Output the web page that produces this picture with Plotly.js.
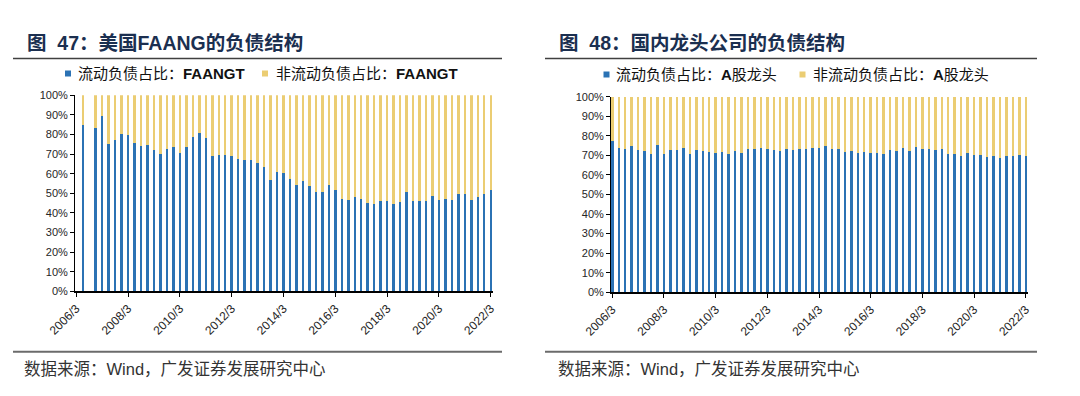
<!DOCTYPE html>
<html>
<head>
<meta charset="utf-8">
<script src="https://cdn.plot.ly/plotly-3.0.1.min.js"></script>
<style>
html,body{margin:0;padding:0;background:#fff;}
#chart{width:1080px;height:396px;}
</style>
</head>
<body>
<div id="chart"></div>
<script>
// ---------- data ----------
var startYear = 2006, endYear = 2022;
var quarters = [];
for (var y = startYear; y <= endYear; y++) {
  var ms = (y === endYear) ? [3] : [3, 6, 9, 12];
  ms.forEach(function (m) { quarters.push(y + '/' + m); });
}
var tickLabels = ['2006/3','2008/3','2010/3','2012/3','2014/3','2016/3','2018/3','2020/3','2022/3'];

// FAANGT (%)
var faangCurrent = [null,85.1,null,83.1,89.2,75.4,77.3,80.2,79.8,75.9,73.9,74.9,72.2,70.3,72.7,73.4,
  70.8,73.7,78.5,80.8,78.3,68.8,69.3,69.5,68.8,67.5,67.1,66.8,65.4,63.2,56.6,60.7,
  60.2,57.3,54.2,56.4,53.7,50.8,50.8,54.1,51.7,47.3,46.8,48.3,47.1,45.3,44.6,46.1,
  46.3,44.6,45.8,50.8,46.1,45.9,46.1,48.6,46.8,46.9,46.4,49.5,49.8,46.8,48.1,49.8,51.5];
var faangNonCurrent = [null,14.9,null,16.9,10.8,24.6,22.7,19.8,20.2,24.1,26.1,25.1,27.8,29.7,27.3,26.6,
  29.2,26.3,21.5,19.2,21.7,31.2,30.7,30.5,31.2,32.5,32.9,33.2,34.6,36.8,43.4,39.3,
  39.8,42.7,45.8,43.6,46.3,49.2,49.2,45.9,48.3,52.7,53.2,51.7,52.9,54.7,55.4,53.9,
  53.7,55.4,54.2,49.2,53.9,54.1,53.9,51.4,53.2,53.1,53.6,50.5,50.2,53.2,51.9,50.2,48.5];

// A股龙头 (%)
var aCurrent = [77.4,74.0,73.2,74.9,72.5,72.0,70.5,75.1,70.6,72.5,72.7,73.7,70.5,72.5,72.2,71.5,
  71.1,71.7,70.8,72.0,71.1,73.5,73.5,73.9,73.2,72.5,72.3,73.2,73.0,73.4,73.4,74.0,
  73.9,74.7,73.4,73.4,71.8,72.2,71.3,71.8,71.0,71.0,70.6,72.9,72.2,73.7,72.0,74.4,
  73.4,73.5,72.9,73.4,70.5,70.6,69.6,71.3,70.0,70.1,69.3,69.6,68.6,69.6,69.5,70.1,69.6];
var aNonCurrent = [22.6,26.0,26.8,25.1,27.5,28.0,29.5,24.9,29.4,27.5,27.3,26.3,29.5,27.5,27.8,28.5,
  28.9,28.3,29.2,28.0,28.9,26.5,26.5,26.1,26.8,27.5,27.7,26.8,27.0,26.6,26.6,26.0,
  26.1,25.3,26.6,26.6,28.2,27.8,28.7,28.2,29.0,29.0,29.4,27.1,27.8,26.3,28.0,25.6,
  26.6,26.5,27.1,26.6,29.5,29.4,30.4,28.7,30.0,29.9,30.7,30.4,31.4,30.4,30.5,29.9,30.4];

var seriesNames = ['流动负债占比：FAANGT','非流动负债占比：FAANGT','流动负债占比：A股龙头','非流动负债占比：A股龙头'];

// ---------- styling ----------
var W = 1080, H = 396;
var BLUE = '#2b72b4', YELLOW = '#ebcd73';
var FONT = 'Liberation Sans, Arial, Noto Sans CJK SC, sans-serif';
var px = function (x) { return x / W; };
var py = function (y) { return 1 - y / H; };

var traces = [
  {type:'bar', x:quarters, y:faangCurrent, name:seriesNames[0], marker:{color:BLUE}, xaxis:'x', yaxis:'y', showlegend:false, hoverinfo:'x+y+name'},
  {type:'bar', x:quarters, y:faangNonCurrent, name:seriesNames[1], marker:{color:YELLOW}, xaxis:'x', yaxis:'y', showlegend:false, hoverinfo:'x+y+name'},
  {type:'bar', x:quarters, y:aCurrent, name:seriesNames[2], marker:{color:BLUE}, xaxis:'x2', yaxis:'y2', showlegend:false, hoverinfo:'x+y+name'},
  {type:'bar', x:quarters, y:aNonCurrent, name:seriesNames[3], marker:{color:YELLOW}, xaxis:'x2', yaxis:'y2', showlegend:false, hoverinfo:'x+y+name'}
];

var tickVals = tickLabels.slice();

function xaxisDef(d0, d1, anchor) {
  return {
    domain:[px(d0), px(d1)], anchor:anchor, type:'category',
    range:[-0.2, 64.35], autorange:false,
    tickmode:'array', tickvals:tickVals, ticktext:tickLabels,
    tickangle:-45, ticks:'outside', ticklen:4, tickwidth:1, tickcolor:'#000',
    showline:true, linecolor:'#000', linewidth:1.5,
    showgrid:false, zeroline:false,
    tickfont:{family:FONT, size:12, color:'#262626'}, fixedrange:true
  };
}
function yaxisDef(top, bottom, anchor) {
  return {
    domain:[py(bottom), py(top)], anchor:anchor,
    range:[0, 100], autorange:false,
    tickmode:'linear', tick0:0, dtick:10, ticksuffix:'%',
    ticks:'outside', ticklen:4, tickwidth:1, tickcolor:'#000',
    showline:true, linecolor:'#000', linewidth:1,
    showgrid:false, zeroline:false,
    tickfont:{family:FONT, size:11, color:'#262626'}, fixedrange:true
  };
}

function ann(x, y, text, size, color, extra) {
  var a = {xref:'paper', yref:'paper', x:px(x), y:py(y), xanchor:'left', yanchor:'middle',
    text:text, showarrow:false, font:{family:FONT, size:size, color:color}};
  if (extra) for (var k in extra) a[k] = extra[k];
  return a;
}
function rect(x0, y0, x1, y1, color) {
  return {type:'rect', xref:'paper', yref:'paper', x0:px(x0), x1:px(x1), y0:py(y1), y1:py(y0),
    fillcolor:color, line:{width:0}};
}
function hline(x0, x1, y, color, w) {
  return {type:'line', xref:'paper', yref:'paper', x0:px(x0), x1:px(x1), y0:py(y), y1:py(y),
    line:{color:color, width:w}};
}

var TITLE = '#1b2f50';
var layout = {
  width:W, height:H, autosize:false,
  margin:{l:0, r:0, t:0, b:0, pad:0},
  paper_bgcolor:'#fff', plot_bgcolor:'#fff',
  barmode:'stack', bargap:0.62,
  font:{family:FONT},
  xaxis: xaxisDef(75, 493, 'y'),
  yaxis: yaxisDef(95.3, 291.3, 'x'),
  xaxis2: xaxisDef(611, 1028, 'y2'),
  yaxis2: yaxisDef(96.7, 292.3, 'x2'),
  annotations:[
    ann(25, 43, '<b>图  47：美国FAANG的负债结构</b>', 19.5, TITLE),
    ann(557, 43, '<b>图  48：国内龙头公司的负债结构</b>', 19.5, TITLE),
    ann(76, 73.5, '流动负债占比：<b>FAANGT</b>', 15, '#111'),
    ann(274, 73.5, '非流动负债占比：<b>FAANGT</b>', 15, '#111'),
    ann(614, 74.5, '流动负债占比：<b>A</b>股龙头', 15, '#111'),
    ann(811, 74.5, '非流动负债占比：<b>A</b>股龙头', 15, '#111'),
    ann(22, 369, '数据来源：Wind，广发证券发展研究中心', 16.5, '#333'),
    ann(556, 369, '数据来源：Wind，广发证券发展研究中心', 16.5, '#333')
  ],
  shapes:[
    hline(13, 502, 58.5, '#404040', 1.5),
    hline(545, 1037, 58.5, '#404040', 1.5),
    hline(13, 502, 351.7, '#6b6b6b', 2),
    hline(545, 1037, 351.7, '#6b6b6b', 2),
    rect(65, 70.5, 71, 76.5, BLUE),
    rect(262, 70.5, 268, 76.5, YELLOW),
    rect(603.5, 71.5, 609.5, 77.5, BLUE),
    rect(799.5, 71.5, 805.5, 77.5, YELLOW)
  ]
};

Plotly.newPlot('chart', traces, layout, {staticPlot:true, displayModeBar:false});
</script>
</body>
</html>
